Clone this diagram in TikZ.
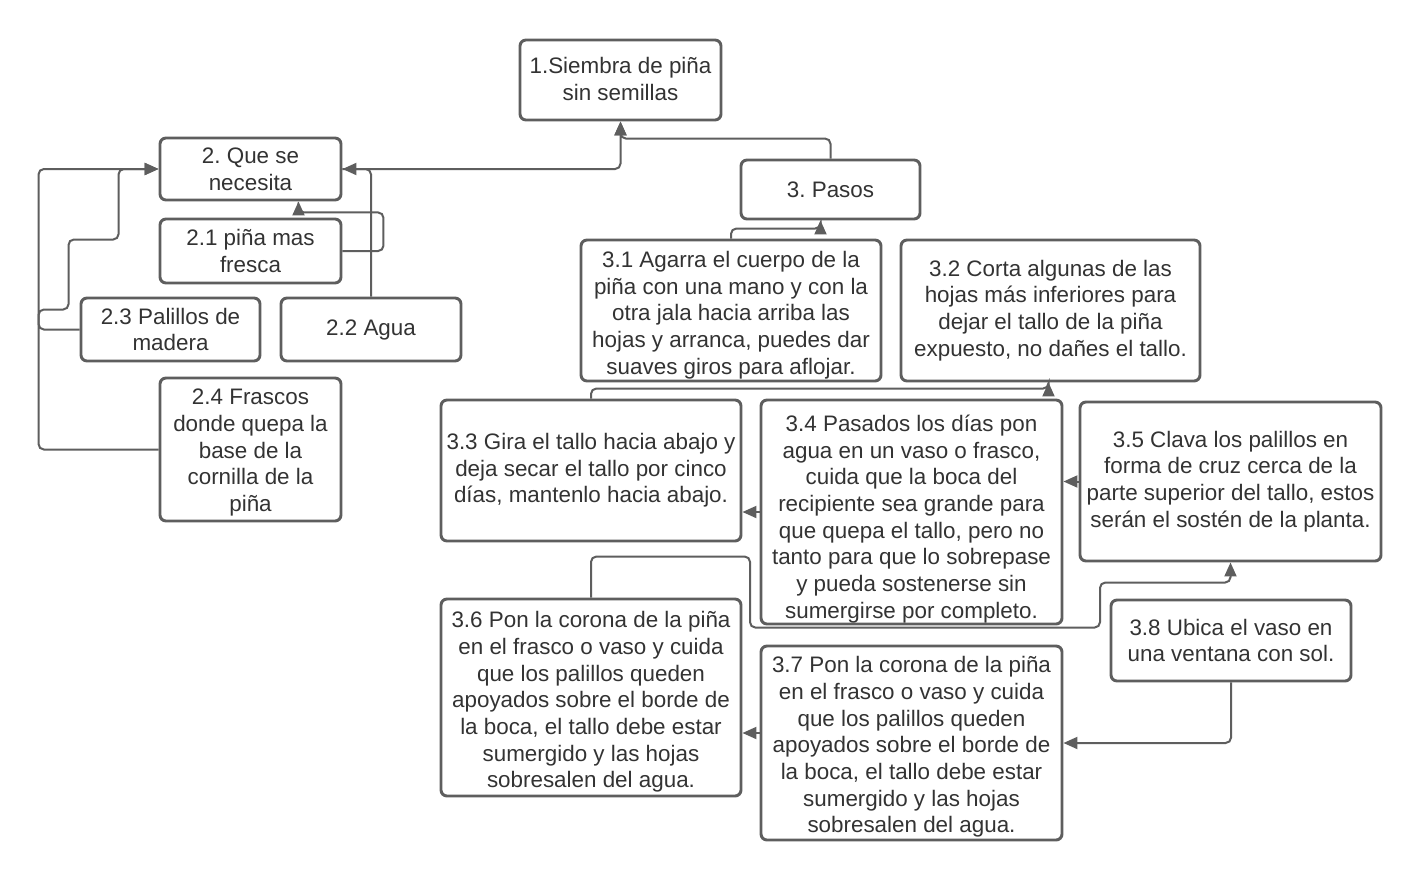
\documentclass[tikz,border=0pt]{standalone}
\usepackage{fontspec}
\setmainfont{Liberation Sans}
\usetikzlibrary{calc,arrows.meta}
\definecolor{edge}{HTML}{5E5E5E}
\definecolor{txt}{HTML}{333333}
\newcommand\dnshift[2]{\raisebox{-#1}[\height][\depth]{\begin{tabular}{@{}c@{}}#2\end{tabular}}}
\begin{document}
\frenchspacing
\begin{tikzpicture}[x=0.75pt,y=-0.75pt,
  box/.style={draw=edge,line width=2.2pt,rounded corners=4.5pt,align=center,
    text=txt,font=\fontsize{16.8}{20}\selectfont,inner sep=0pt,fill=white},
  conn/.style={draw=edge,line width=1.5pt,rounded corners=4pt,
    -{Triangle[length=10.5pt,width=9pt]}}]
\useasboundingbox[fill=white] (0,0) rectangle (1422,882);
% nodes
\node[box,minimum width=201*0.75pt,minimum height=80*0.75pt] (n1) at (620.5,80) {\dnshift{1.1pt}{1.Siembra de piña\\sin semillas}};
\node[box,minimum width=179*0.75pt,minimum height=59*0.75pt] (n3) at (830.5,189.5) {3. Pasos};
\node[box,minimum width=181*0.75pt,minimum height=62*0.75pt] (n2) at (250.5,169) {2. Que se\\necesita};
\node[box,minimum width=181*0.75pt,minimum height=64*0.75pt] (n21) at (250.5,251) {2.1 piña mas\\fresca};
\node[box,minimum width=179*0.75pt,minimum height=63*0.75pt] (n23) at (170.5,329.5) {2.3 Palillos de\\madera};
\node[box,minimum width=180*0.75pt,minimum height=63*0.75pt] (n22) at (371,329.5) {2.2 Agua};
\node[box,minimum width=181*0.75pt,minimum height=143*0.75pt] (n24) at (250.5,449.5) {\dnshift{2.6pt}{2.4 Frascos\\donde quepa la\\base de la\\cornilla de la\\piña}};
\node[box,minimum width=300*0.75pt,minimum height=141*0.75pt] (n31) at (731,310.5) {\dnshift{3.75pt}{3.1 Agarra el cuerpo de la\\piña con una mano y con la\\otra jala hacia arriba las\\hojas y arranca, puedes dar\\suaves giros para aflojar.}};
\node[box,minimum width=299*0.75pt,minimum height=141*0.75pt] (n32) at (1050.5,310.5) {3.2 Corta algunas de las\\hojas más inferiores para\\dejar el tallo de la piña\\expuesto, no dañes el tallo.};
\node[box,minimum width=300*0.75pt,minimum height=141*0.75pt] (n33) at (591,470.5) {3.3 Gira el tallo hacia abajo y\\deja secar el tallo por cinco\\días, mantenlo hacia abajo.};
\node[box,minimum width=301*0.75pt,minimum height=224*0.75pt] (n34) at (911.5,512) {\dnshift{5.6pt}{3.4 Pasados los días pon\\agua en un vaso o frasco,\\cuida que la boca del\\recipiente sea grande para\\que quepa el tallo, pero no\\tanto para que lo sobrepase\\y pueda sostenerse sin\\sumergirse por completo.}};
\node[box,minimum width=301*0.75pt,minimum height=159*0.75pt] (n35) at (1230.5,481.5) {3.5 Clava los palillos en\\forma de cruz cerca de la\\parte superior del tallo, estos\\serán el sostén de la planta.};
\node[box,minimum width=300*0.75pt,minimum height=197*0.75pt] (n36) at (591,697.5) {\dnshift{3.75pt}{3.6 Pon la corona de la piña\\en el frasco o vaso y cuida\\que los palillos queden\\apoyados sobre el borde de\\la boca, el tallo debe estar\\sumergido y las hojas\\sobresalen del agua.}};
\node[box,minimum width=301*0.75pt,minimum height=194*0.75pt] (n37) at (911.5,743) {\dnshift{3.4pt}{3.7 Pon la corona de la piña\\en el frasco o vaso y cuida\\que los palillos queden\\apoyados sobre el borde de\\la boca, el tallo debe estar\\sumergido y las hojas\\sobresalen del agua.}};
\node[box,minimum width=240*0.75pt,minimum height=81*0.75pt] (n38) at (1231,640.5) {3.8 Ubica el vaso en\\una ventana con sol.};
% connectors
\draw[conn] (n2.east) -| (n1.south);
\draw[conn] (n3.north) -- ++(0,-20) -| (n1.south);
\draw[conn] (n22.north) |- (n2.east);
\draw[conn] (n21.east) -- ++(41,0) |- ($(n2.south)+(48,11)$) -- ($(n2.south)+(48,0)$);
\draw[conn] (n23.west) -- ++(-41,0) -- ++(0,-20) -- ++(30,0) -- ++(0,-70) -- ++(50,0) |- (n2.west);
\draw[conn] (n24.west) -- ++(-120,0) |- (n2.west);
\draw[conn] (n31.north) -- ++(0,-10) -| ($(n3.south)+(-10,0)$);
\draw[conn] (n33.north) -- ++(0,-10) -| ($(n32.south)+(-2,0)$);
\draw[conn] (n34.west) -- (n34.west -| n33.east);
\draw[conn] (n35.west) -- (n35.west -| n34.east);
\draw[conn] (n36.north) -- ++(0,-41) -- ++(159,0) -- ++(0,71) -- ++(350,0) -- ++(0,-45) -| (n35.south);
\draw[conn] (n38.south) |- (n37.east);
\draw[conn] ([yshift=7.5pt]n37.west) -- ([yshift=7.5pt]n37.west -| n36.east);
\end{tikzpicture}
\end{document}
